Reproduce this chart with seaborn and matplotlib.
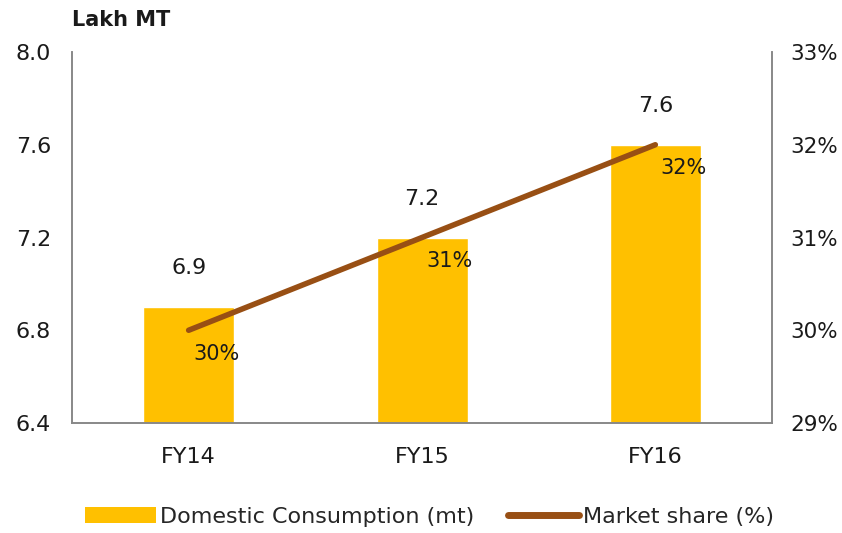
import matplotlib
matplotlib.use("Agg")
import matplotlib.pyplot as plt
import seaborn as sns
import pandas as pd
from matplotlib.patches import Patch
from matplotlib.lines import Line2D

categories = ["FY14", "FY15", "FY16"]
consumption = [6.9, 7.2, 7.6]
market_share = [30, 31, 32]
left_ticks = [6.4, 6.8, 7.2, 7.6, 8.0]
right_ticks = [29, 30, 31, 32, 33]

bar_color = "#FFC000"
line_color = "#984F14"
text_color = "#1a1a1a"

sns.set_theme(style="white")
plt.rcParams["font.family"] = ["DejaVu Sans"]

df = pd.DataFrame({"cat": categories, "cons": consumption, "share": market_share})

fig = plt.figure(figsize=(8.42, 5.33), dpi=100)
ax = fig.add_axes([72/842, 1 - 423/533, 700/842, (423 - 52)/533])

sns.barplot(data=df, x="cat", y="cons", color=bar_color, width=0.39, ax=ax,
            saturation=1)
ax.set_ylim(6.4, 8.0)
ax.set_yticks(left_ticks)
ax.set_yticklabels([f"{v:.1f}" for v in left_ticks], fontsize=16, color=text_color)
ax.set_xlabel("")
ax.set_ylabel("")
ax.tick_params(axis="x", labelsize=16, colors=text_color, length=0, pad=17)
ax.tick_params(axis="y", length=0, pad=15)

ax2 = ax.twinx()
sns.lineplot(x=[0, 1, 2], y=market_share, color=line_color, linewidth=4, ax=ax2,
             solid_capstyle="round")
ax2.set_ylim(29, 33)
ax2.set_yticks(right_ticks)
ax2.set_yticklabels([f"{v}%" for v in right_ticks], fontsize=15.5, color=text_color)
ax2.tick_params(axis="y", length=0, pad=13)
ax2.set_ylabel("")
ax.set_xlim(-0.5, 2.5)

for a in (ax, ax2):
    a.spines["top"].set_visible(False)
    for s in ["left", "right", "bottom"]:
        a.spines[s].set_color("#888888")
        a.spines[s].set_linewidth(1.2)

for i, v in enumerate(consumption):
    ax.annotate(f"{v:.1f}", (i, v), xytext=(0, 28), textcoords="offset points",
                ha="center", va="center", fontsize=16, color=text_color)
for i, v in enumerate(market_share):
    ax2.annotate(f"{v}%", (i, v), xytext=(20, -17), textcoords="offset points",
                 ha="center", va="center", fontsize=15, color=text_color)

fig.text(72/842, 1 - 20/533, "Lakh MT", fontsize=15, fontweight="bold",
         color=text_color, ha="left", va="center")

handles = [Patch(facecolor=bar_color, edgecolor="none", label="Domestic Consumption (mt)"),
           Line2D([0], [0], color=line_color, linewidth=5, label="Market share (%)")]
fig.legend(handles=handles, loc="center", bbox_to_anchor=(0.51, 1 - 517/533), ncol=2,
           frameon=False, fontsize=16, handlelength=3.2, handletextpad=0.2,
           columnspacing=1.5)

fig.savefig("out.png", dpi=100)
